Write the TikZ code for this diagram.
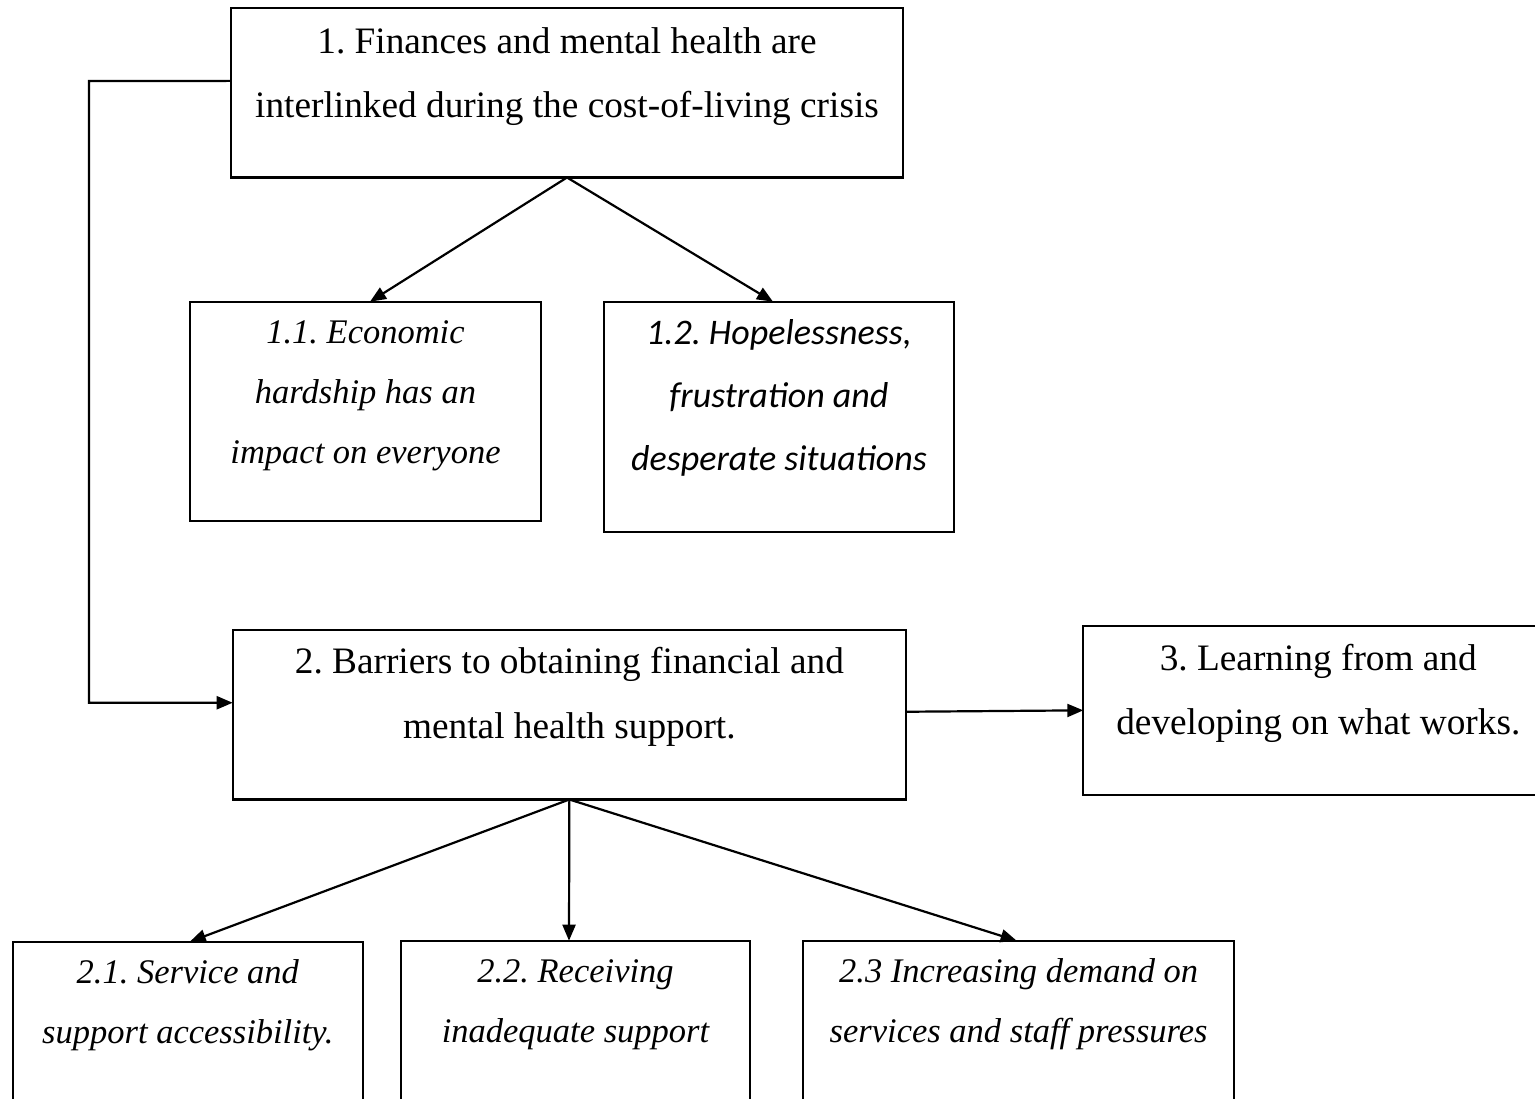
\documentclass[tikz,border=0pt]{standalone}
\usepackage{fontspec}
\setmainfont{Liberation Serif}
\newfontfamily\calib{Carlito}
\usetikzlibrary{arrows.meta}
\tikzset{
  box/.style={draw, line width=2.2pt, inner sep=0pt, outer sep=0pt, anchor=north west},
  conn/.style={line width=2.2pt, -{Triangle[length=16pt,width=13pt]}},
}
\newcommand{\boxtext}[5]{\parbox[t][#2pt][t]{#1pt}{\frenchspacing\centering\rule{0pt}{#3pt}#5}}
\begin{document}
\begin{tikzpicture}[x=1pt,y=-1pt]
\useasboundingbox (0,0) rectangle (1535,1099);
\clip (0,0) rectangle (1535,1099);
% boxes
\node[box] (b1) at (231,8.3) {\fontsize{37.3}{64.4}\selectfont\boxtext{672}{169.2}{45}{}{1. Finances and mental health are\\interlinked during the cost-of-living crisis}};
\node[box] (b11) at (190,301.7) {\fontsize{34.5}{60}\selectfont\itshape\boxtext{351}{219}{41.6}{}{1.1. Economic\\hardship has an\\impact on everyone}};
\node[box] (b12) at (604,301.7) {\calib\fontsize{36}{63.3}\selectfont\itshape\boxtext{350}{230}{42.5}{}{1.2. Hopelessness,\\frustration and\\desperate situations}};
\node[box] (b2) at (232.7,630) {\fontsize{37.3}{65}\selectfont\boxtext{673.3}{169.5}{43.8}{}{2. Barriers to obtaining financial and\\mental health support.}};
\node[box] (b3) at (1083.3,625.7) {\fontsize{37.3}{64}\selectfont\boxtext{470}{169.3}{44.8}{}{3. Learning from and\\developing on what works.}};
\node[box] (b21) at (12.7,941.7) {\fontsize{34.5}{60}\selectfont\itshape\boxtext{350.3}{230}{41.6}{}{2.1. Service and\\support accessibility.}};
\node[box] (b22) at (401,940.7) {\fontsize{34.5}{60}\selectfont\itshape\boxtext{349}{230}{41.6}{}{2.2. Receiving\\inadequate support}};
\node[box] (b23) at (803.3,940.7) {\fontsize{34.5}{60}\selectfont\itshape\boxtext{430.7}{230}{41.6}{}{2.3 Increasing demand on\\services and staff pressures}};
% connectors
\coordinate (elbow) at (89,81);
\draw[conn] (b1.south) -- ([xshift=4.5pt]b11.north);
\draw[conn] (b1.south) -- ([xshift=-6pt]b12.north);
\draw[conn] ([yshift=12pt]b1.west) -- (elbow) |- ([yshift=12pt]b2.west);
\draw[conn] ([yshift=3pt]b2.east) -- (b3.west);
\draw[conn] (b2.south) -- ([xshift=2pt]b21.north);
\draw[conn] (b2.south) -- ([xshift=-6.5pt]b22.north);
\draw[conn] (b2.south) -- ([xshift=-2pt]b23.north);
\end{tikzpicture}
\end{document}
